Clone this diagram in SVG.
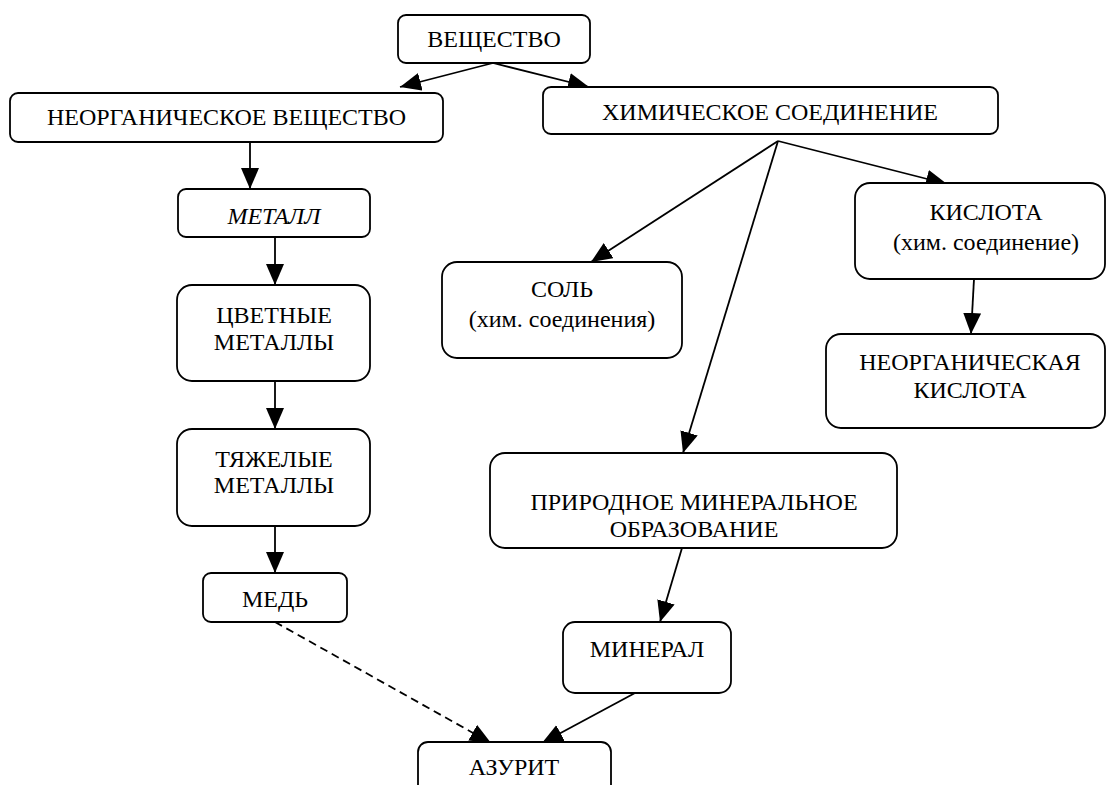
<svg xmlns="http://www.w3.org/2000/svg" width="1107" height="785" viewBox="0 0 1107 785">
<style>
.box{fill:#fff;stroke:#000;stroke-width:1.8}
.t{font-family:"Liberation Serif","Times New Roman",serif;font-size:24px;fill:#000;text-anchor:middle}
.i{font-style:italic}
.c{fill:none;stroke:#000;stroke-width:1.8}
.d{stroke-dasharray:8 5}
</style>
<defs>
<marker id="ah" markerUnits="userSpaceOnUse" markerWidth="22" markerHeight="20" refX="21" refY="9" orient="auto">
<path d="M0,0 L21,9 L0,18 z" fill="#000"/>
</marker>
</defs>
<rect width="1107" height="785" fill="#fff"/>
<g id="connectors">
<line class="c" x1="493" y1="63" x2="400" y2="87" marker-end="url(#ah)"/>
<line class="c" x1="493" y1="63" x2="589" y2="87" marker-end="url(#ah)"/>
<line class="c" x1="250" y1="142" x2="250" y2="189" marker-end="url(#ah)"/>
<line class="c" x1="275" y1="237" x2="275" y2="285" marker-end="url(#ah)"/>
<line class="c" x1="275" y1="381" x2="275" y2="429" marker-end="url(#ah)"/>
<line class="c" x1="275" y1="526" x2="275" y2="573" marker-end="url(#ah)"/>
<line class="c" x1="778" y1="141" x2="591" y2="262" marker-end="url(#ah)"/>
<line class="c" x1="778" y1="141" x2="683" y2="453" marker-end="url(#ah)"/>
<line class="c" x1="778" y1="141" x2="947" y2="184" marker-end="url(#ah)"/>
<line class="c" x1="974" y1="279" x2="971" y2="334" marker-end="url(#ah)"/>
<line class="c" x1="682" y1="548" x2="660" y2="622" marker-end="url(#ah)"/>
<line class="c d" x1="275" y1="622" x2="491" y2="743" marker-end="url(#ah)"/>
<line class="c" x1="635" y1="693" x2="542" y2="743" marker-end="url(#ah)"/>
</g>
<g id="n-veshchestvo">
<rect class="box" x="398" y="15" width="192" height="48" rx="8"/>
<text class="t" x="494" y="47">ВЕЩЕСТВО</text>
</g>
<g id="n-neorg">
<rect class="box" x="10" y="93" width="433" height="49" rx="8"/>
<text class="t" x="226.5" y="125">НЕОРГАНИЧЕСКОЕ ВЕЩЕСТВО</text>
</g>
<g id="n-khim">
<rect class="box" x="543" y="87" width="455" height="47" rx="8"/>
<text class="t" x="770" y="120">ХИМИЧЕСКОЕ СОЕДИНЕНИЕ</text>
</g>
<g id="n-metall">
<rect class="box" x="178" y="189" width="192" height="48" rx="8"/>
<text class="t i" x="274" y="224">МЕТАЛЛ</text>
</g>
<g id="n-tsvetnye">
<rect class="box" x="177" y="285" width="193" height="96" rx="15"/>
<text class="t" x="274" y="323">ЦВЕТНЫЕ</text>
<text class="t" x="274" y="350">МЕТАЛЛЫ</text>
</g>
<g id="n-tyazhelye">
<rect class="box" x="177" y="429" width="193" height="97" rx="15"/>
<text class="t" x="274" y="467">ТЯЖЕЛЫЕ</text>
<text class="t" x="274" y="493">МЕТАЛЛЫ</text>
</g>
<g id="n-med">
<rect class="box" x="203" y="573" width="144" height="49" rx="8"/>
<text class="t" x="275" y="607">МЕДЬ</text>
</g>
<g id="n-sol">
<rect class="box" x="442" y="262" width="240" height="96" rx="15"/>
<text class="t" x="562" y="297">СОЛЬ</text>
<text class="t" x="562" y="327">(хим. соединения)</text>
</g>
<g id="n-kislota">
<rect class="box" x="855" y="183" width="250" height="96" rx="15"/>
<text class="t" x="986" y="220">КИСЛОТА</text>
<text class="t" x="986" y="250">(хим. соединение)</text>
</g>
<g id="n-neorg-kislota">
<rect class="box" x="826" y="334" width="279" height="94" rx="15"/>
<text class="t" x="970" y="370">НЕОРГАНИЧЕСКАЯ</text>
<text class="t" x="970" y="398">КИСЛОТА</text>
</g>
<g id="n-prirodnoe">
<rect class="box" x="490" y="453" width="407" height="95" rx="15"/>
<text class="t" x="694" y="510">ПРИРОДНОЕ МИНЕРАЛЬНОЕ</text>
<text class="t" x="694" y="537">ОБРАЗОВАНИЕ</text>
</g>
<g id="n-mineral">
<rect class="box" x="563" y="622" width="168" height="71" rx="12"/>
<text class="t" x="647" y="657">МИНЕРАЛ</text>
</g>
<g id="n-azurit">
<rect class="box" x="418" y="742" width="193" height="60" rx="10"/>
<text class="t" x="514" y="775">АЗУРИТ</text>
</g>
</svg>
